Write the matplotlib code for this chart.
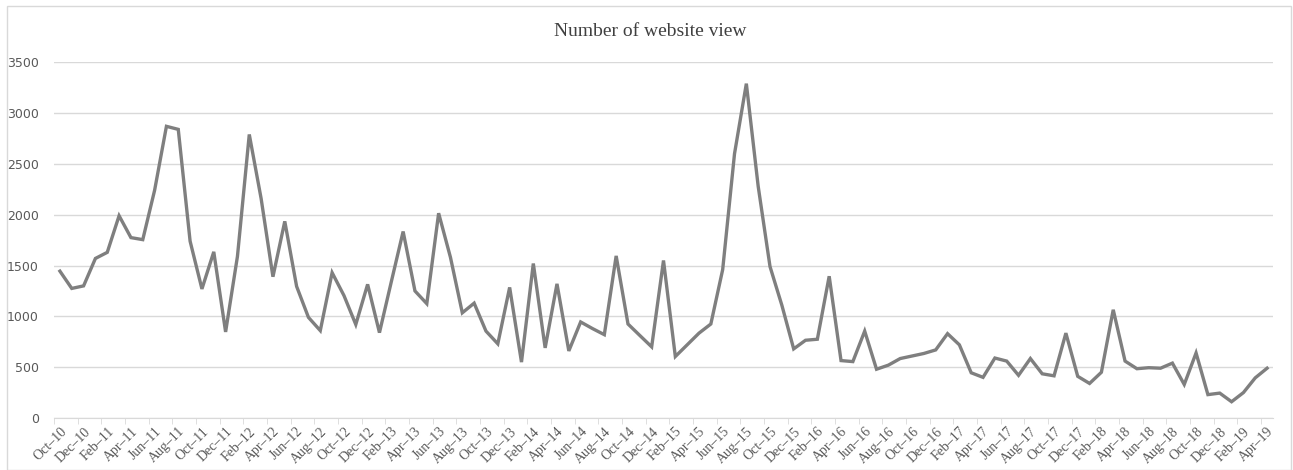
import matplotlib.pyplot as plt
import matplotlib.patches as patches
import numpy as np

# monthly views, Oct-10 .. Apr-19
views = [1445, 1275, 1300, 1570, 1630, 1990, 1775, 1755, 2240, 2870,
         2840, 1740, 1270, 1635, 847, 1590, 2790, 2160, 1390, 1935,
         1295, 990, 860, 1430, 1205, 920, 1315, 840, 1340, 1835,
         1250, 1125, 2015, 1580, 1035, 1130, 855, 730, 1285, 550,
         1520, 690, 1320, 660, 945, 880, 820, 1595, 925, 812,
         700, 1550, 605, 720, 835, 925, 1460, 2600, 3290, 2280,
         1490, 1110, 680, 765, 775, 1395, 565, 555, 855, 480,
         520, 585, 610, 635, 670, 830, 720, 445, 400, 590,
         560, 420, 585, 435, 415, 835, 410, 340, 450, 1065,
         560, 485, 495, 490, 540, 330, 640, 230, 245, 160,
         250, 395, 490]

months = ['Jan', 'Feb', 'Mar', 'Apr', 'May', 'Jun',
          'Jul', 'Aug', 'Sep', 'Oct', 'Nov', 'Dec']
labels = []
for k in range(len(views)):
    m = (9 + k) % 12
    y = 10 + (9 + k) // 12
    labels.append('%s\u2013%02d' % (months[m], y))

yticks = [0, 500, 1000, 1500, 2000, 2500, 3000, 3500]

W, H = 1293, 470
fig = plt.figure(figsize=(W / 100, H / 100), dpi=100)
fig.patches.append(patches.Rectangle((7 / W, 0), 1284 / W, 1 - 6 / H,
                                     transform=fig.transFigure, fill=False,
                                     edgecolor='#d9d9d9', linewidth=1))

ax = fig.add_axes([54 / W, (H - 418) / H, (1273 - 54) / W, (418 - 62.3) / H])
x = np.arange(len(views))
ax.plot(x, views, color='#7f7f7f', linewidth=2.4, solid_joinstyle='miter')

ax.set_xlim(-0.5, len(views) - 0.5)
ax.set_ylim(0, 3500)
ax.set_yticks(yticks)
ax.set_yticklabels([str(v) for v in yticks], fontsize=9, color='#595959',
                   family='DejaVu Sans')
ax.yaxis.grid(True, color='#d9d9d9', linewidth=1)
ax.set_axisbelow(True)
ax.tick_params(axis='y', length=0, pad=11)

ax.set_xticks(x[::2])
ax.set_xticklabels(labels[::2], rotation=45, ha='right', rotation_mode='anchor',
                   fontsize=10, color='#595959', family='Liberation Serif')
ax.set_xticks(np.arange(-0.5, len(views), 2), minor=True)
ax.tick_params(axis='x', which='major', length=0, pad=5)
ax.tick_params(axis='x', which='minor', length=4, color='#d9d9d9')

for s in ['top', 'right', 'left']:
    ax.spines[s].set_visible(False)
ax.spines['bottom'].set_color('#d9d9d9')

fig.text(650 / W, 1 - 31 / H, 'Number of website view', ha='center', va='center',
         fontsize=14, color='#404040', family='Liberation Serif')

fig.savefig('out.png', dpi=100)
